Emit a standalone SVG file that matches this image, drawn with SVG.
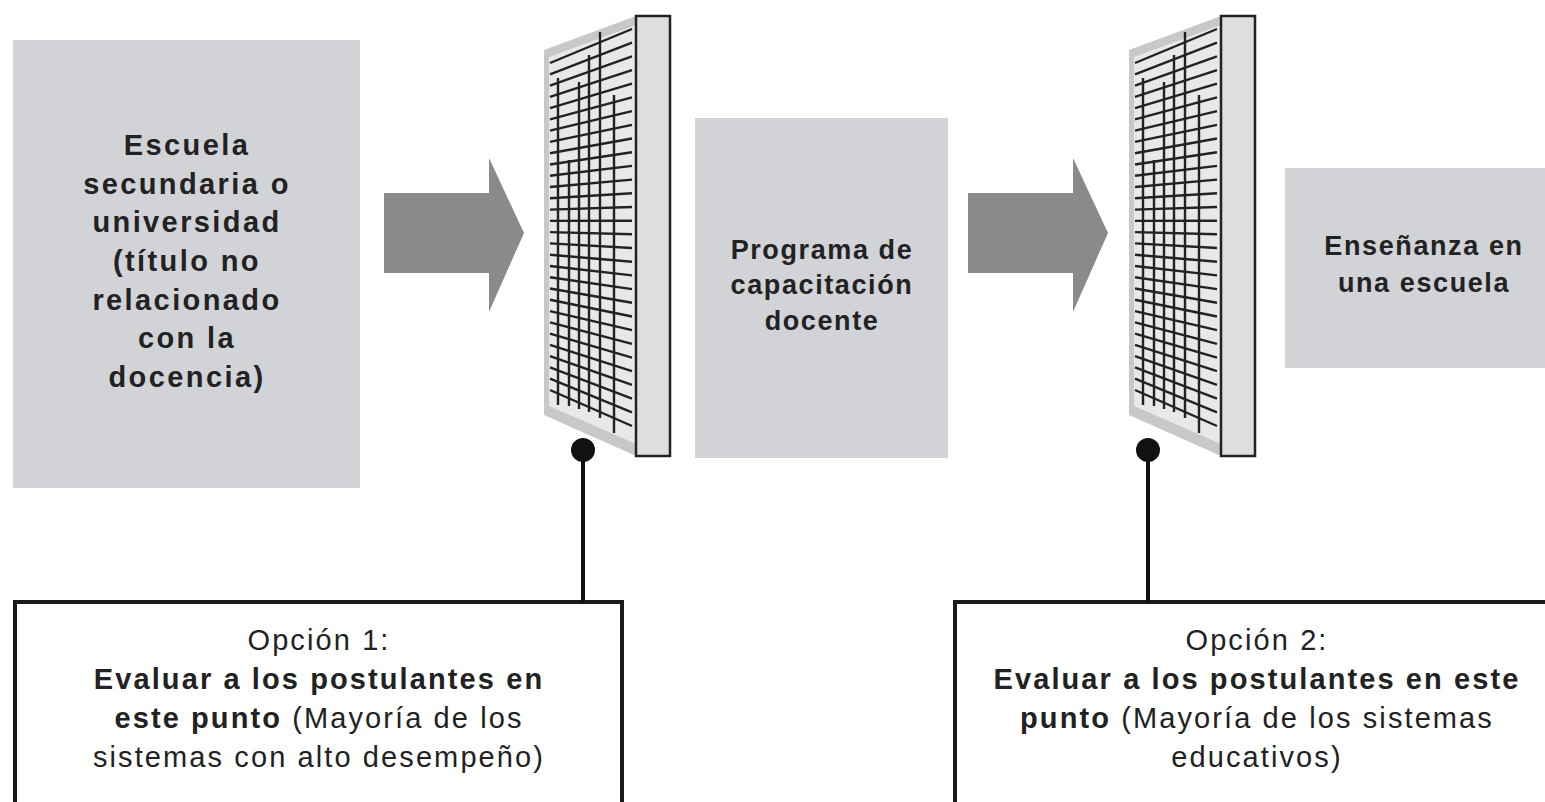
<svg xmlns="http://www.w3.org/2000/svg" xmlns:xlink="http://www.w3.org/1999/xlink" width="1545" height="802" viewBox="0 0 1545 802">
<style>
.box{fill:#d1d3d6}
.arrow{fill:#8a8a8c}
.t{font-family:"Liberation Sans",Arial,sans-serif;font-weight:bold;fill:#222;text-anchor:middle}
.tb{font-size:29px;letter-spacing:2.4px}
.tm{font-size:27px;letter-spacing:1.6px}
.to{font-size:29px;letter-spacing:2.1px}
.r{font-weight:normal}
.opt{fill:#fff;stroke:#1a1a1a;stroke-width:4}
.conn{stroke:#111;stroke-width:4;fill:none}
.grid{stroke:#222;stroke-width:2.4;fill:none}
</style>
<defs>
<g id="sieve">
<polygon points="544,50 636,16 636,456 544,415" fill="#c8c8ca"/>
<polygon points="549,57 636,25 636,444 549,406" fill="#e8e8ea"/>
<path class="grid" d="M550,63L632,29M550,74.3L632,42.7M550,85.6L632,56.4M550,96.8L632,70.1M550,108.1L632,83.7M550,119.4L632,97.4M550,130.7L632,111.1M550,141.9L632,124.8M550,153.2L632,138.5M550,164.5L632,152.2M550,175.8L632,165.9M550,187L632,179.6M550,198.3L632,193.3M550,209.6L632,207M550,220.9L632,220.7M550,232.1L632,234.3M550,243.4L632,248M550,254.7L632,261.7M550,266L632,275.4M550,277.2L632,289.1M550,288.5L632,302.8M550,299.8L632,316.5M550,311.1L632,330.2M550,322.3L632,343.9M550,333.6L632,357.6M550,344.9L632,371.2M550,356.2L632,384.9M550,367.4L632,398.6M550,378.7L632,412.3M550,390L632,426"/>
<path class="grid" d="M558,78L558,405M569,160L569,406M579,82L579,409M589,55L589,412M600,32L600,418M614,95L614,433"/>
<rect x="636" y="16" width="34" height="440" fill="#dedee0" stroke="#222" stroke-width="2.5"/>
</g>
<polygon id="bigarrow" points="384,193 489,193 489,158 524,233 489,312 489,273 384,273"/>
</defs>

<g id="node-escuela">
<rect class="box" x="13" y="40" width="347" height="448"/>
<text class="t tb" x="187" y="155">Escuela</text>
<text class="t tb" x="187" y="194">secundaria o</text>
<text class="t tb" x="187" y="232">universidad</text>
<text class="t tb" x="187" y="271">(título no</text>
<text class="t tb" x="187" y="310">relacionado</text>
<text class="t tb" x="187" y="348">con la</text>
<text class="t tb" x="187" y="387">docencia)</text>
</g>

<g id="node-filtro1">
<use xlink:href="#sieve"/>
</g>

<g id="node-programa">
<rect class="box" x="695" y="118" width="253" height="340"/>
<text class="t tm" x="822" y="259">Programa de</text>
<text class="t tm" x="822" y="294">capacitación</text>
<text class="t tm" x="822" y="330">docente</text>
</g>

<g id="node-filtro2">
<use xlink:href="#sieve" transform="translate(585,0)"/>
</g>

<g id="node-ensenanza">
<rect class="box" x="1285" y="168" width="262" height="200"/>
<text class="t tm" x="1424" y="255">Enseñanza en</text>
<text class="t tm" x="1424" y="292">una escuela</text>
</g>

<g id="node-opcion1">
<rect class="opt" x="15" y="602" width="607" height="215"/>
<text class="t to r" x="319" y="650">Opción 1:</text>
<text class="t to" x="319" y="689">Evaluar a los postulantes en</text>
<text class="t to" x="319" y="728">este punto <tspan class="r">(Mayoría de los</tspan></text>
<text class="t to r" x="319" y="767">sistemas con alto desempeño)</text>
</g>

<g id="node-opcion2">
<rect class="opt" x="955" y="602" width="600" height="215"/>
<text class="t to r" x="1257" y="650">Opción 2:</text>
<text class="t to" x="1257" y="689">Evaluar a los postulantes en este</text>
<text class="t to" x="1257" y="728">punto <tspan class="r">(Mayoría de los sistemas</tspan></text>
<text class="t to r" x="1257" y="767">educativos)</text>
</g>

<g id="connectors">
<use xlink:href="#bigarrow" class="arrow"/>
<use xlink:href="#bigarrow" class="arrow" transform="translate(584,0)"/>
<line class="conn" x1="583" y1="450" x2="583" y2="603"/>
<circle cx="583" cy="450" r="12" fill="#111"/>
<line class="conn" x1="1148" y1="450" x2="1148" y2="603"/>
<circle cx="1148" cy="450" r="12" fill="#111"/>
</g>
</svg>
